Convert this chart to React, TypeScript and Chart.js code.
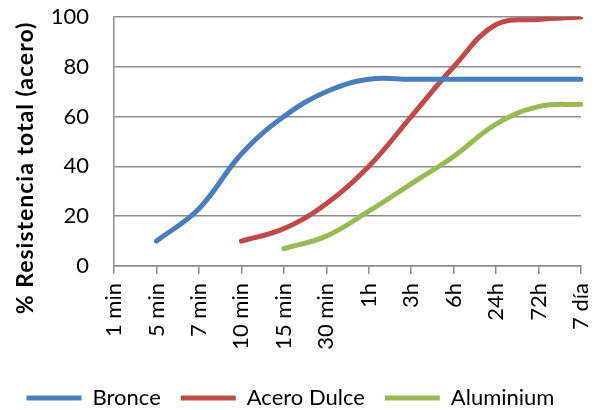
import React, { useEffect, useRef } from "react";
import { Chart, registerables } from "chart.js";

Chart.register(...registerables);

const categories = ["1 min", "5 min", "7 min", "10 min", "15 min", "30 min", "1h", "3h", "6h", "24h", "72h", "7 día"];
const bronce = [null, 10, 23, 45, 60, 70, 75, 75, 75, 75, 75, 75];
const aceroDulce = [null, null, null, 10, 15, 25, 40, 60, 80, 97, 99, 100];
const aluminium = [null, null, null, null, 7, 12, 22, 33, 44, 57, 64, 65];
const yTitle = "% Resistencia total (acero)";

const FONT = "Lato";
const GRID = "#8c8c8c";

export default function App() {
  const ref = useRef<HTMLCanvasElement>(null);
  useEffect(() => {
    document.body.style.margin = "0";
    const titlePlugin = {
      id: "ytitle",
      afterDraw(chart: any) {
        const ctx = chart.ctx;
        ctx.save();
        ctx.translate(26, 168);
        ctx.rotate(-Math.PI / 2);
        ctx.font = `bold 23px ${FONT}`;
        try {
          (ctx as any).letterSpacing = "1px";
        } catch (e) {}
        ctx.fillStyle = "#000";
        ctx.textAlign = "center";
        ctx.textBaseline = "middle";
        ctx.fillText(yTitle, 0, 0);
        ctx.restore();
      },
    };
    const mk = (label: string, data: (number | null)[], color: string) => ({
      label,
      data,
      borderColor: color,
      backgroundColor: color,
      borderWidth: 5,
      tension: 0.4,
      pointRadius: 0,
      borderCapStyle: "round" as const,
      borderJoinStyle: "round" as const,
    });
    const chart = new Chart(ref.current!, {
      type: "line",
      data: {
        labels: categories,
        datasets: [
          mk("Bronce", bronce, "#4a7ebb"),
          mk("Acero Dulce", aceroDulce, "#be4b48"),
          mk("Aluminium", aluminium, "#98b954"),
        ],
      },
      options: {
        animation: false,
        responsive: false,
        layout: { padding: { top: 17, right: 24, bottom: -9, left: 0 } },
        plugins: {
          legend: {
            position: "bottom",
            labels: {
              usePointStyle: true,
              pointStyle: "line",
              pointStyleWidth: 55,
              padding: 20,
              color: "#000",
              font: { family: FONT, size: 22 },
            },
          },
          tooltip: { enabled: false },
        },
        scales: {
          x: {
            offset: false,
            grid: { drawOnChartArea: false, drawTicks: true, tickLength: 8, color: GRID, lineWidth: 1.5 },
            border: { color: GRID, width: 1.5 },
            ticks: {
              autoSkip: false,
              maxRotation: 90,
              minRotation: 90,
              padding: 9,
              color: "#000",
              font: { family: FONT, size: 22 },
            },
            afterFit(scale: any) {
              scale.height = 101;
              scale.paddingLeft = 0;
              scale.paddingRight = 0;
            },
          },
          y: {
            min: 0,
            max: 100,
            ticks: { stepSize: 20, padding: 25, color: "#000", font: { family: FONT, size: 22 } },
            grid: { drawTicks: false, color: GRID, lineWidth: 1.5 },
            border: { color: GRID, width: 1.5 },
            afterFit(scale: any) {
              scale.width = 114;
              scale.paddingTop = 0;
              scale.paddingBottom = 0;
            },
          },
        },
      },
      plugins: [titlePlugin],
    });
    return () => chart.destroy();
  }, []);
  return (
    <div style={{ position: "fixed", left: 0, top: 0, width: 605, height: 410, background: "#fff" }}>
      <canvas ref={ref} width={605} height={410} style={{ width: 605, height: 410 }} />
    </div>
  );
}
